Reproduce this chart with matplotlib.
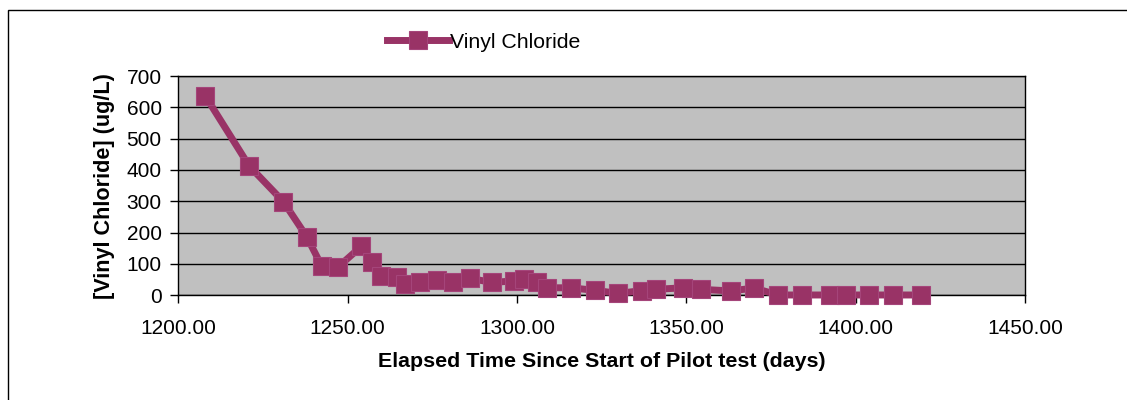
import matplotlib
matplotlib.use('Agg')
import matplotlib.pyplot as plt
from matplotlib.patches import Rectangle
from matplotlib.ticker import FormatStrFormatter

plt.rcParams['font.family'] = ['Liberation Sans', 'DejaVu Sans']

# elapsed days and vinyl chloride concentration (ug/L)
days = [1207.9, 1220.9, 1231.0, 1237.9, 1242.3, 1247.0, 1254.0, 1257.1, 1259.9,
        1264.5, 1267.0, 1271.3, 1276.3, 1281.2, 1286.1, 1292.6, 1299.1, 1302.1,
        1306.0, 1308.9, 1315.8, 1322.9, 1329.9, 1336.8, 1340.9, 1349.1, 1354.2,
        1363.1, 1370.0, 1377.1, 1384.1, 1392.4, 1397.1, 1404.0, 1411.1, 1419.2]
vinyl = [637, 413, 299, 187, 94, 89, 156, 106, 63,
         57, 35, 44, 49, 44, 54, 41, 46, 51,
         44, 24, 24, 16, 6, 15, 19, 24, 19,
         14, 23, 1, 1, 1, 1, 1, 1, 1]

xticks = [1200, 1250, 1300, 1350, 1400, 1450]
yticks = [0, 100, 200, 300, 400, 500, 600, 700]

col = '#993366'

fig = plt.figure(figsize=(11.27, 4.0), dpi=100)
# outer chart frame, runs off the right and bottom edge
fig.patches.append(Rectangle((8/1127, -0.1), 1.2, 1 - 10/400 + 0.1,
                             transform=fig.transFigure, fill=False,
                             edgecolor='black', linewidth=1.0))

ax = fig.add_axes([178.4/1127, 1 - 295.3/400, (1025 - 178.4)/1127, (295.3 - 76)/400])
ax.set_facecolor('#c0c0c0')
ax.plot(days, vinyl, color=col, linewidth=5, marker='s', markersize=12.5,
        markerfacecolor=col, markeredgecolor='#a5457a', markeredgewidth=0.8,
        label='Vinyl Chloride', clip_on=False, zorder=3)

ax.set_xlim(1200, 1450)
ax.set_ylim(0, 700)
ax.set_xticks(xticks)
ax.set_yticks(yticks)
ax.xaxis.set_major_formatter(FormatStrFormatter('%.2f'))
ax.grid(axis='y', color='black', linewidth=1.0)
ax.set_axisbelow(True)
for s in ax.spines.values():
    s.set_color('black')
    s.set_linewidth(1.0)
ax.tick_params(axis='x', length=6, width=1, pad=11, labelsize=15)
ax.tick_params(axis='y', length=6, width=1, pad=6, labelsize=15)

ax.set_xlabel('Elapsed Time Since Start of Pilot test (days)', fontsize=15.4,
              fontweight='bold', labelpad=10)
ax.set_ylabel('[Vinyl Chloride] (ug/L)', fontsize=15.6, fontweight='bold', labelpad=8)

fig.legend(loc='center left', bbox_to_anchor=(387/1127, 1 - 42/400), frameon=False,
           fontsize=15.3, handlelength=2.9, handletextpad=0.05, borderpad=0,
           borderaxespad=0)

fig.savefig('out.png', dpi=100)
